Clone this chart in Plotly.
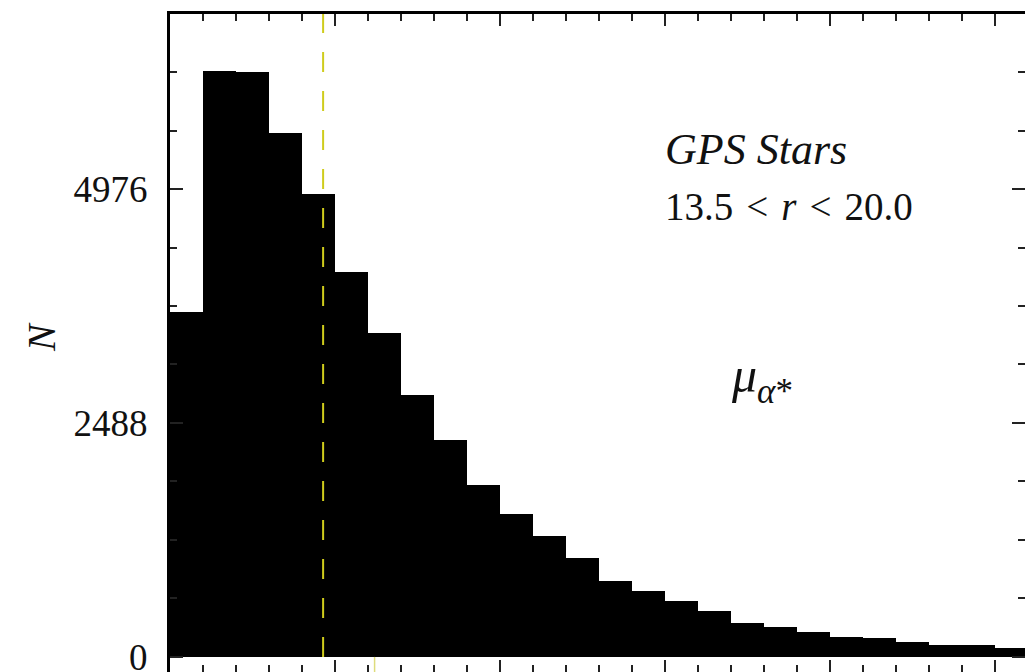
import plotly.graph_objects as go

# Histogram of proper motion (one bin per unit), counts per bin
bin_left = list(range(26))
counts = [3668, 6231, 6220, 5571, 4923, 4094, 3445, 2786, 2307, 1829,
          1520, 1287, 1053, 808, 702, 595, 489, 362, 319, 266,
          213, 202, 159, 128, 128, 96]

y_major_ticks = [0, 2488, 4976]
y_minor_step = 622
x_range = [0, 25.91]
y_range = [-160, 6837]

median_pm = 4.64      # dashed marker line
ref_pm = 6.2          # short marker below the baseline

serif = "Liberation Serif"
ink = "#111111"

fig = go.Figure()

fig.add_trace(go.Bar(
    x=[b + 0.5 for b in bin_left],
    y=counts,
    width=1.0,
    marker=dict(color="black", line=dict(width=0)),
    showlegend=False,
    hoverinfo="skip",
))

# empty trace so the mirrored top/right axes are drawn
fig.add_trace(go.Scatter(x=[None], y=[None], xaxis="x2", yaxis="y2",
                         showlegend=False, hoverinfo="skip"))

# dashed vertical line from the baseline to the top of the frame
fig.add_shape(type="line", xref="x", yref="y",
              x0=median_pm, x1=median_pm, y0=0, y1=y_range[1],
              line=dict(color="#cfcc1c", width=2, dash="20px,19px"))
fig.add_shape(type="line", xref="x", yref="y",
              x0=ref_pm, x1=ref_pm, y0=y_range[0], y1=0,
              line=dict(color="#dedc7c", width=1.5))

tick_color = "#222222"
minor_x = dict(ticks="inside", dtick=1, tick0=0, ticklen=7,
               tickwidth=1.5, tickcolor=tick_color, showgrid=False)
minor_y = dict(ticks="inside", dtick=y_minor_step, tick0=0, ticklen=7,
               tickwidth=1.5, tickcolor=tick_color, showgrid=False)

fig.update_layout(
    width=1025, height=672,
    margin=dict(l=170, r=0, t=14, b=0, autoexpand=False),
    paper_bgcolor="white", plot_bgcolor="white",
    bargap=0, showlegend=False,
    font=dict(family=serif, size=37, color=ink),
    xaxis=dict(
        range=x_range, showgrid=False, zeroline=False, automargin=False,
        showline=False, ticks="inside", ticklen=12, tickwidth=1.5,
        tickcolor=tick_color, tickmode="linear", tick0=0, dtick=5,
        minor=minor_x, showticklabels=False,
    ),
    xaxis2=dict(
        overlaying="x", matches="x", side="top", anchor="y",
        range=x_range, showgrid=False, zeroline=False, automargin=False,
        showline=True, linewidth=3, linecolor="black",
        ticks="inside", ticklen=12, tickwidth=1.5, tickcolor=tick_color,
        tickmode="linear", tick0=0, dtick=5,
        minor=minor_x, showticklabels=False,
    ),
    yaxis=dict(
        range=y_range, showgrid=False, zeroline=False, automargin=False,
        showline=True, linewidth=3, linecolor="black",
        ticks="inside", ticklen=13, tickwidth=1.5, tickcolor=tick_color,
        tickmode="array", tickvals=y_major_ticks,
        ticktext=[str(v) for v in y_major_ticks],
        minor=minor_y,
        tickfont=dict(family=serif, size=37, color=ink),
        ticklabelstandoff=12,
        ticklabeloverflow="allow",
    ),
    yaxis2=dict(
        overlaying="y", matches="y", side="right", anchor="x",
        range=y_range, showgrid=False, zeroline=False, showline=False,
        automargin=False,
        ticks="inside", ticklen=13, tickwidth=1.5, tickcolor=tick_color,
        tickmode="array", tickvals=y_major_ticks,
        minor=minor_y, showticklabels=False,
    ),
)

# y-axis label
fig.add_annotation(text="<i>N</i>", xref="paper", yref="paper",
                   x=0, y=0.5, xanchor="center", yanchor="middle",
                   xshift=-129, yshift=6, textangle=-90, showarrow=False,
                   font=dict(family=serif, size=40, color=ink))

fig.add_annotation(text="<i>GPS Stars</i>", xref="x", yref="y",
                   x=14.95, y=5391, xanchor="left", yanchor="middle",
                   showarrow=False,
                   font=dict(family=serif, size=44, color=ink))
fig.add_annotation(text="13.5\u2004<\u2004<i>r</i>\u2004<\u200420.0",
                   xref="x", yref="y",
                   x=14.95, y=4785, xanchor="left", yanchor="middle",
                   showarrow=False,
                   font=dict(family=serif, size=39, color=ink))
fig.add_annotation(text="<i>μ</i><sub><i>α</i>*</sub>", xref="x", yref="y",
                   x=16.95, y=2960, xanchor="left", yanchor="middle",
                   showarrow=False,
                   font=dict(family=serif, size=50, color=ink))

fig.write_html("out.html")
